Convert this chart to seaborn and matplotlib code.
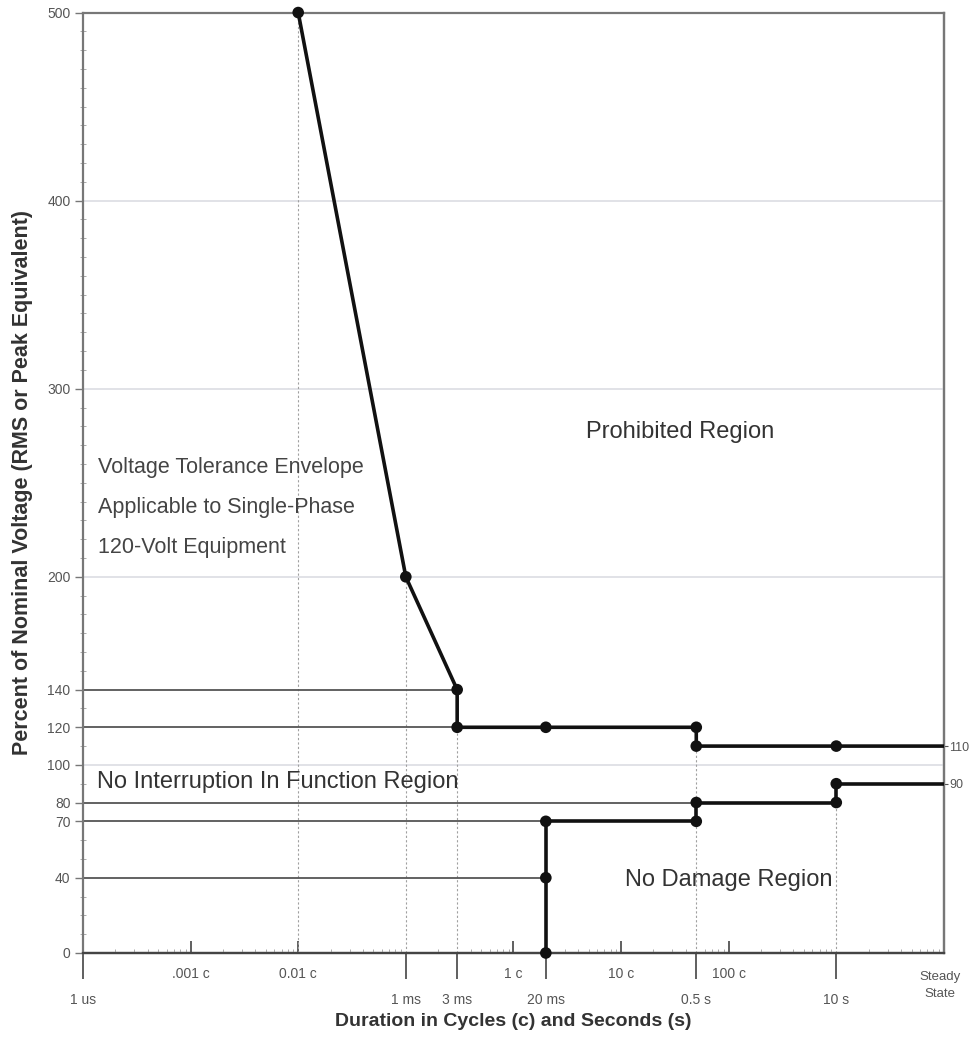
import numpy as np
import pandas as pd
import matplotlib
matplotlib.use('Agg')
import matplotlib.pyplot as plt
import seaborn as sns
from matplotlib.ticker import LogLocator, NullLocator, NullFormatter, MultipleLocator

# upper envelope: duration in seconds, percent of nominal voltage
upper_t = [1e-4, 1e-3, 3e-3, 3e-3, 2e-2, 0.5, 0.5, 10, 100]
upper_v = [500, 200, 140, 120, 120, 120, 110, 110, 110]

# lower envelope
lower_t = [2e-2, 2e-2, 2e-2, 0.5, 0.5, 10, 10, 100]
lower_v = [0, 40, 70, 70, 80, 80, 90, 90]

# thin reference lines from the left axis to the envelope
ref_v = [140, 120, 80, 70, 40]
ref_t = [3e-3, 3e-3, 0.5, 2e-2, 2e-2]

# dotted drop lines from envelope corners down to 0
drop_t = [1e-4, 1e-3, 3e-3, 0.5, 10]
drop_v = [500, 200, 140, 110, 80]

grid_v = [100, 200, 300, 400]

y_ticks = [0, 40, 70, 80, 100, 120, 140, 200, 300, 400, 500]
sec_ticks = [1e-6, 1e-3, 3e-3, 2e-2, 0.5, 10]
sec_labels = ['1 us', '1 ms', '3 ms', '20 ms', '0.5 s', '10 s']
cyc_ticks = [1e-5, 1e-4, 1e-2, 1e-1, 1]
cyc_labels = ['.001 c', '0.01 c', '1 c', '10 c', '100 c']
right_ticks = [90, 110]


sns.set_style('white')
plt.rcParams['font.family'] = ['Liberation Sans', 'DejaVu Sans']

fig = plt.figure(figsize=(9.75, 10.38), dpi=100)
ax = fig.add_axes([0.0851, 0.0819, 0.883, 0.906])
ax.set_xscale('log')

ax.hlines(grid_v, 1e-6, 100, color='#dcdde3', lw=1.2, zorder=1)
ax.hlines(ref_v, 1e-6, ref_t, color='#555555', lw=1.3, zorder=2)
ax.vlines(drop_t, 0, drop_v, color='#a0a0a0', lw=0.8, linestyles=(0, (2, 2)), zorder=1)

up = pd.DataFrame({'t': upper_t, 'v': upper_v})
lo = pd.DataFrame({'t': lower_t, 'v': lower_v})
for df in (up, lo):
    sns.lineplot(data=df, x='t', y='v', sort=False, estimator=None, color='#111111', lw=2.6, ax=ax, zorder=4)
    sns.scatterplot(data=df.iloc[:-1], x='t', y='v', color='#111111', s=70, edgecolor='none', ax=ax,
                    zorder=5, clip_on=False)

ax.set_xlim(1e-6, 100)
ax.set_ylim(0, 500)

# seconds ticks (outward, long)
ax.set_xticks(sec_ticks)
ax.set_xticklabels(sec_labels)
ax.xaxis.set_minor_locator(LogLocator(base=10, subs=np.arange(2, 10), numticks=100))
ax.xaxis.set_minor_formatter(NullFormatter())
ax.tick_params(axis='x', which='both', bottom=True)
ax.tick_params(axis='x', which='major', direction='out', length=19, width=1.2, color='#444444',
               pad=10, labelsize=10, labelcolor='#555555')
ax.tick_params(axis='x', which='minor', direction='in', length=3, width=0.7, color='#aaaaaa')

# cycle ticks (inward, short)
cax = ax.secondary_xaxis('bottom')
cax.set_xticks(cyc_ticks)
cax.set_xticklabels(cyc_labels)
cax.xaxis.set_minor_locator(NullLocator())
cax.tick_params(bottom=True, direction='in', length=9, width=1.2, color='#444444', pad=10,
                labelsize=10, labelcolor='#555555')
cax.spines['bottom'].set_color('#444444')
cax.spines['bottom'].set_linewidth(1.6)

ax.set_yticks(y_ticks)
ax.yaxis.set_minor_locator(MultipleLocator(10))
ax.tick_params(axis='y', which='both', left=True)
ax.tick_params(axis='y', which='major', direction='out', length=6, width=1, color='#777777',
               labelsize=10, labelcolor='#555555', pad=3)
ax.tick_params(axis='y', which='minor', direction='inout', length=5, width=0.7, color='#aaaaaa')

rax = ax.secondary_yaxis('right')
rax.set_yticks(right_ticks)
rax.tick_params(right=True, direction='out', length=3, pad=1, labelsize=9, labelcolor='#555555', color='#555555')
rax.spines['right'].set_color('#888888')
rax.spines['right'].set_linewidth(1.6)

for s in ax.spines.values():
    s.set_color('#777777')
    s.set_linewidth(1.6)
ax.spines['bottom'].set_color('#444444')

ax.set_xlabel('Duration in Cycles (c) and Seconds (s)', fontsize=14, fontweight='bold', color='#333333', labelpad=4)
ax.set_ylabel('Percent of Nominal Voltage (RMS or Peak Equivalent)', fontsize=15.5, fontweight='bold',
              color='#333333', labelpad=10)

ax.annotate('Steady\nState', xy=(100, 0), xytext=(-3, -13), textcoords='offset points', ha='center', va='top',
            fontsize=9.5, color='#555555', linespacing=1.6, annotation_clip=False)

ax.text(0.353, 277, 'Prohibited Region', ha='center', va='center', fontsize=17, color='#333333')
ax.text(1.38e-6, 258, 'Voltage Tolerance Envelope', ha='left', va='center', fontsize=15.5, color='#444444')
ax.text(1.38e-6, 236.7, 'Applicable to Single-Phase', ha='left', va='center', fontsize=15.5, color='#444444')
ax.text(1.38e-6, 215.4, '120-Volt Equipment', ha='left', va='center', fontsize=15.5, color='#444444')
ax.text(1.35e-6, 91, 'No Interruption In Function Region', ha='left', va='center', fontsize=17, color='#333333')
ax.text(1.01, 38.8, 'No Damage Region', ha='center', va='center', fontsize=17, color='#333333')

fig.savefig('out.png', dpi=100)
